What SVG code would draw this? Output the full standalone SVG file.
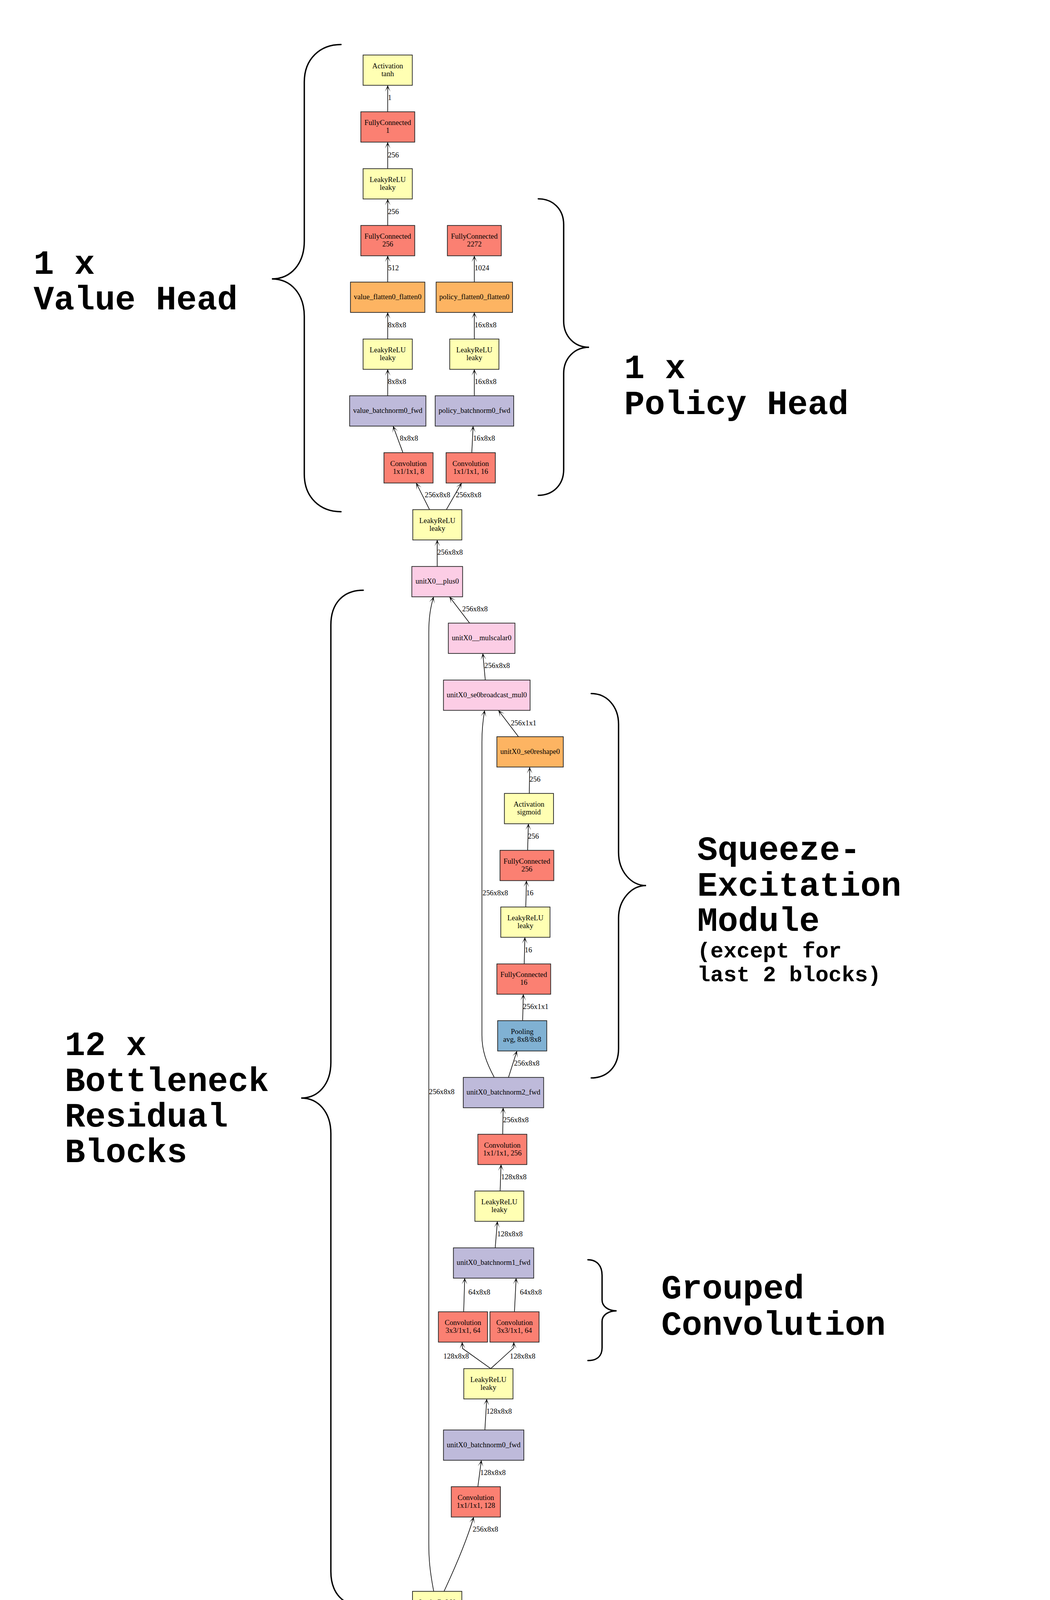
<svg xmlns="http://www.w3.org/2000/svg" width="2688" height="5953" viewBox="0 0 2688 5953">
<style>
.bg{fill:#ffffff}
.n rect,.n ellipse{stroke:#222222;stroke-width:1.8}
.red{fill:#fb8072}.yel{fill:#ffffb3}.pur{fill:#bebada}.ora{fill:#fdb462}.pnk{fill:#fccde5}.blu{fill:#80b1d3}.tea{fill:#8dd3c7}
.t{font-family:"Liberation Serif","Times New Roman",serif;font-size:18.7px;fill:#000000;text-anchor:middle}
.l{font-family:"Liberation Serif","Times New Roman",serif;font-size:18.7px;fill:#000000;text-anchor:start}
.e path{fill:none;stroke:#000000;stroke-width:1.6;marker-end:url(#ah)}
.br path{fill:none;stroke:#000000;stroke-width:3.5;stroke-linecap:round}
.big{font-family:"Liberation Mono","Courier New",monospace;font-weight:bold;font-size:87px;fill:#000000}
.sm{font-family:"Liberation Mono","Courier New",monospace;font-weight:bold;font-size:56px;fill:#000000}
</style>
<defs>
<marker id="ah" viewBox="-18 -10 20 20" refX="0" refY="0" markerWidth="20" markerHeight="20" markerUnits="userSpaceOnUse" orient="auto">
<path d="M0,0 L-16,-7 L-5,0 L-16,7 Z" fill="#000000"/>
</marker>
</defs>
<rect class="bg" x="0" y="0" width="2688" height="5953"/>

<g id="connectors" class="e">
<path d="M992.5,286.2 L992.5,218.6"/>
<path d="M992.5,431.8 L992.5,364"/>
<path d="M992.5,577.2 L992.5,509.4"/>
<path d="M992.5,722.2 L992.5,654.8"/>
<path d="M1214.3,722.2 L1214.3,654.8"/>
<path d="M992.5,867.9 L992.5,799.8"/>
<path d="M1214.3,867.9 L1214.3,799.8"/>
<path d="M992.5,1013.2 L992.5,945.5"/>
<path d="M1214.3,1013.2 L1214.3,945.5"/>
<path d="M1031.5,1158.9 L1006.3,1090.8"/>
<path d="M1207.8,1158.9 L1211.2,1090.8"/>
<path d="M1099.6,1304.7 L1065.5,1236.5"/>
<path d="M1142.7,1304.7 L1181.7,1236.5"/>
<path d="M1119.3,1450.2 L1119.3,1382.3"/>
<path d="M1202.3,1595.2 L1150.7,1527.8"/>
<path d="M1242.3,1740.9 L1236,1672.8"/>
<path d="M1327.3,1886 L1276,1818.6"/>
<path d="M1355,2031.2 L1356,1964"/>
<path d="M1350.7,2176.8 L1352.7,2108.8"/>
<path d="M1346,2321.9 L1347.7,2254.5"/>
<path d="M1342,2467.6 L1343.7,2399.5"/>
<path d="M1338,2612.9 L1339.7,2545.3"/>
<path d="M1301.7,2758.2 L1323.3,2690.5"/>
<path d="M1265.3,2758.2 C1245,2720 1233.7,2690 1233.7,2650 L1233.7,1900 C1233.7,1870 1236,1845 1240.7,1818.6"/>
<path d="M1287,2903.7 L1288,2835.8"/>
<path d="M1280.3,3049 L1282.7,2981.3"/>
<path d="M1267.7,3194.5 L1273.3,3126.6"/>
<path d="M1187,3358.2 L1189.7,3271.7"/>
<path d="M1317,3358.2 L1321.3,3271.7"/>
<path d="M1256.3,3503.7 L1184,3452 L1183,3436"/>
<path d="M1256.3,3503.7 L1315.3,3450 L1315.3,3436"/>
<path d="M1241.3,3660.7 L1246,3581.3"/>
<path d="M1223.3,3806 L1232.3,3738.3"/>
<path d="M1136.7,4073.8 Q1190,3960 1212.7,3883.6"/>
<path d="M1110.3,4073.8 C1100,4020 1097.7,3990 1097.7,3950 L1097.7,1620 C1097.7,1580 1102,1555 1110,1527.8"/>
<path d="M1119.3,4219.2 L1119.3,4151.4"/>
<path d="M1194.7,4364.9 L1146.7,4296.8"/>
<path d="M1228.7,4510.2 L1224.7,4442.5"/>
<path d="M1231.3,4655.5 L1231.3,4587.8"/>
<path d="M1231.3,4801 L1231.3,4733.1"/>
<path d="M1231.3,4946 L1231.3,4878.6"/>
<path d="M1219,5091.5 L1226.3,5023.6"/>
<path d="M1144.7,5236.8 L1188.3,5169.1"/>
<path d="M1110.3,5236.8 C1100,5190 1097.7,5170 1097.7,5140 L1097.7,4390 C1097.7,4350 1102,4325 1109,4296.8"/>
<path d="M1119.3,5382.2 L1119.3,5314.4"/>
<path d="M1119.3,5527.4 L1119.3,5459.8"/>
<path d="M1119.3,5673 L1119.3,5605"/>
</g>

<g id="edge-labels">
<text class="l" x="993" y="256">1</text>
<text class="l" x="993" y="402.5">256</text>
<text class="l" x="993" y="547.6">256</text>
<text class="l" x="993" y="692.3">512</text>
<text class="l" x="1215" y="692.3">1024</text>
<text class="l" x="993" y="838.4">8x8x8</text>
<text class="l" x="1215" y="838.4">16x8x8</text>
<text class="l" x="993" y="983.1">8x8x8</text>
<text class="l" x="1215" y="983.1">16x8x8</text>
<text class="l" x="1023.5" y="1128.2">8x8x8</text>
<text class="l" x="1211.2" y="1128.2">16x8x8</text>
<text class="l" x="1087.3" y="1273.2">256x8x8</text>
<text class="l" x="1166.7" y="1273.2">256x8x8</text>
<text class="l" x="1119.5" y="1419.5">256x8x8</text>
<text class="l" x="1183.3" y="1564.6">256x8x8</text>
<text class="l" x="1240" y="1710">256x8x8</text>
<text class="l" x="1307.7" y="1856.5">256x1x1</text>
<text class="l" x="1355.5" y="2000.5">256</text>
<text class="l" x="1351.5" y="2147.2">256</text>
<text class="l" x="1347" y="2292.3">16</text>
<text class="l" x="1235.3" y="2292">256x8x8</text>
<text class="l" x="1343.3" y="2437.6">16</text>
<text class="l" x="1338.7" y="2583">256x1x1</text>
<text class="l" x="1315.7" y="2728.2">256x8x8</text>
<text class="l" x="1098.3" y="2801.3">256x8x8</text>
<text class="l" x="1288" y="2872.5">256x8x8</text>
<text class="l" x="1282.7" y="3019">128x8x8</text>
<text class="l" x="1272.7" y="3164.5">128x8x8</text>
<text class="l" x="1199" y="3314">64x8x8</text>
<text class="l" x="1331" y="3314">64x8x8</text>
<text class="l" x="1135" y="3477.6">128x8x8</text>
<text class="l" x="1305.3" y="3477.6">128x8x8</text>
<text class="l" x="1245" y="3619">128x8x8</text>
<text class="l" x="1229.3" y="3776">128x8x8</text>
<text class="l" x="1210" y="3921">256x8x8</text>
<text class="l" x="1119.3" y="4189">256x8x8</text>
<text class="l" x="1178.3" y="4335.6">256x8x8</text>
<text class="l" x="1226.7" y="4480.7">256x8x8</text>
<text class="l" x="1231.5" y="4625.9">256x8x8</text>
<text class="l" x="1231.5" y="4771.4">256x8x8</text>
<text class="l" x="1098.3" y="4771.4">256x8x8</text>
<text class="l" x="1231.5" y="4915.6">256x8x8</text>
<text class="l" x="1224" y="5061">256x8x8</text>
<text class="l" x="1172.7" y="5207.7">256x8x8</text>
<text class="l" x="1119.3" y="5351.2">256x8x8</text>
<text class="l" x="1119.3" y="5496.6">256x8x8</text>
<text class="l" x="1119.3" y="5643.3">34x8x8</text>
</g>

<g id="n_value_tanh" class="n"><rect class="yel" x="929.5" y="140.8" width="126" height="77.6"/><text class="t" x="992.5" y="174.6">Activation</text><text class="t" x="992.5" y="194.6">tanh</text></g>
<g id="n_value_fc1" class="n"><rect class="red" x="923.7" y="286.2" width="138" height="77.6"/><text class="t" x="992.7" y="320">FullyConnected</text><text class="t" x="992.7" y="340">1</text></g>
<g id="n_value_relu1" class="n"><rect class="yel" x="929.5" y="431.8" width="126" height="77.6"/><text class="t" x="992.5" y="465.6">LeakyReLU</text><text class="t" x="992.5" y="485.6">leaky</text></g>
<g id="n_value_fc256" class="n"><rect class="red" x="923.7" y="577.2" width="138" height="77.6"/><text class="t" x="992.7" y="611">FullyConnected</text><text class="t" x="992.7" y="631">256</text></g>
<g id="n_policy_fc" class="n"><rect class="red" x="1145.3" y="577.2" width="138" height="77.6"/><text class="t" x="1214.3" y="611">FullyConnected</text><text class="t" x="1214.3" y="631">2272</text></g>
<g id="n_value_flatten" class="n"><rect class="ora" x="897.2" y="722.2" width="190.4" height="77.6"/><text class="t" x="992.4" y="766">value_flatten0_flatten0</text></g>
<g id="n_policy_flatten" class="n"><rect class="ora" x="1116.5" y="722.2" width="195.6" height="77.6"/><text class="t" x="1214.3" y="766">policy_flatten0_flatten0</text></g>
<g id="n_value_relu0" class="n"><rect class="yel" x="929.5" y="867.9" width="126" height="77.6"/><text class="t" x="992.5" y="901.7">LeakyReLU</text><text class="t" x="992.5" y="921.7">leaky</text></g>
<g id="n_policy_relu0" class="n"><rect class="yel" x="1151.3" y="867.9" width="126" height="77.6"/><text class="t" x="1214.3" y="901.7">LeakyReLU</text><text class="t" x="1214.3" y="921.7">leaky</text></g>
<g id="n_value_bn" class="n"><rect class="pur" x="895.1" y="1013.2" width="195.2" height="77.6"/><text class="t" x="992.7" y="1057">value_batchnorm0_fwd</text></g>
<g id="n_policy_bn" class="n"><rect class="pur" x="1114.1" y="1013.2" width="201" height="77.6"/><text class="t" x="1214.6" y="1057">policy_batchnorm0_fwd</text></g>
<g id="n_value_conv" class="n"><rect class="red" x="982.9" y="1158.9" width="125.7" height="77.6"/><text class="t" x="1045.7" y="1192.7">Convolution</text><text class="t" x="1045.7" y="1212.7">1x1/1x1, 8</text></g>
<g id="n_policy_conv" class="n"><rect class="red" x="1142" y="1158.9" width="126" height="77.6"/><text class="t" x="1205" y="1192.7">Convolution</text><text class="t" x="1205" y="1212.7">1x1/1x1, 16</text></g>
<g id="n_uX_relu_out" class="n"><rect class="yel" x="1056.7" y="1304.7" width="125.6" height="77.6"/><text class="t" x="1119.5" y="1338.5">LeakyReLU</text><text class="t" x="1119.5" y="1358.5">leaky</text></g>
<g id="n_uX_plus" class="n"><rect class="pnk" x="1054.3" y="1450.2" width="130" height="77.6"/><text class="t" x="1119.3" y="1494">unitX0__plus0</text></g>
<g id="n_uX_mulscalar" class="n"><rect class="pnk" x="1147.7" y="1595.2" width="170.6" height="77.6"/><text class="t" x="1233" y="1639">unitX0__mulscalar0</text></g>
<g id="n_uX_bcast" class="n"><rect class="pnk" x="1135.3" y="1740.9" width="221.7" height="77.6"/><text class="t" x="1246.2" y="1784.7">unitX0_se0broadcast_mul0</text></g>
<g id="n_uX_reshape" class="n"><rect class="ora" x="1272" y="1886" width="170" height="77.6"/><text class="t" x="1357" y="1929.8">unitX0_se0reshape0</text></g>
<g id="n_uX_sigmoid" class="n"><rect class="yel" x="1291.3" y="2031.2" width="125.7" height="77.6"/><text class="t" x="1354.2" y="2065">Activation</text><text class="t" x="1354.2" y="2085">sigmoid</text></g>
<g id="n_uX_fc256" class="n"><rect class="red" x="1280" y="2176.8" width="137.7" height="77.6"/><text class="t" x="1348.8" y="2210.6">FullyConnected</text><text class="t" x="1348.8" y="2230.6">256</text></g>
<g id="n_uX_se_relu" class="n"><rect class="yel" x="1282" y="2321.9" width="126" height="77.6"/><text class="t" x="1345" y="2355.7">LeakyReLU</text><text class="t" x="1345" y="2375.7">leaky</text></g>
<g id="n_uX_fc16" class="n"><rect class="red" x="1272" y="2467.6" width="137.7" height="77.6"/><text class="t" x="1340.8" y="2501.4">FullyConnected</text><text class="t" x="1340.8" y="2521.4">16</text></g>
<g id="n_uX_pool" class="n"><rect class="blu" x="1274" y="2612.9" width="125.7" height="77.6"/><text class="t" x="1336.8" y="2646.7">Pooling</text><text class="t" x="1336.8" y="2666.7">avg, 8x8/8x8</text></g>
<g id="n_uX_bn2" class="n"><rect class="pur" x="1186" y="2758.2" width="205.7" height="77.6"/><text class="t" x="1288.8" y="2802">unitX0_batchnorm2_fwd</text></g>
<g id="n_uX_conv2" class="n"><rect class="red" x="1223.3" y="2903.7" width="125.4" height="77.6"/><text class="t" x="1286" y="2937.5">Convolution</text><text class="t" x="1286" y="2957.5">1x1/1x1, 256</text></g>
<g id="n_uX_relu1" class="n"><rect class="yel" x="1215.7" y="3049" width="125.3" height="77.6"/><text class="t" x="1278.3" y="3082.8">LeakyReLU</text><text class="t" x="1278.3" y="3102.8">leaky</text></g>
<g id="n_uX_bn1" class="n"><rect class="pur" x="1160.7" y="3194.5" width="205.6" height="77.6"/><text class="t" x="1263.5" y="3238.3">unitX0_batchnorm1_fwd</text></g>
<g id="n_uX_conv1a" class="n"><rect class="red" x="1122.3" y="3358.2" width="125.7" height="77.6"/><text class="t" x="1185.2" y="3392">Convolution</text><text class="t" x="1185.2" y="3412">3x3/1x1, 64</text></g>
<g id="n_uX_conv1b" class="n"><rect class="red" x="1254.3" y="3358.2" width="125.7" height="77.6"/><text class="t" x="1317.2" y="3392">Convolution</text><text class="t" x="1317.2" y="3412">3x3/1x1, 64</text></g>
<g id="n_uX_relu0" class="n"><rect class="yel" x="1187.3" y="3503.7" width="126" height="77.6"/><text class="t" x="1250.3" y="3537.5">LeakyReLU</text><text class="t" x="1250.3" y="3557.5">leaky</text></g>
<g id="n_uX_bn0" class="n"><rect class="pur" x="1135.3" y="3660.7" width="205.7" height="77.6"/><text class="t" x="1238.2" y="3704.5">unitX0_batchnorm0_fwd</text></g>
<g id="n_uX_conv0" class="n"><rect class="red" x="1155.3" y="3806" width="125.7" height="77.6"/><text class="t" x="1218.2" y="3839.8">Convolution</text><text class="t" x="1218.2" y="3859.8">1x1/1x1, 128</text></g>
<g id="n_u0_relu_out" class="n"><rect class="yel" x="1056" y="4073.8" width="126.3" height="77.6"/><text class="t" x="1119.2" y="4107.6">LeakyReLU</text><text class="t" x="1119.2" y="4127.6">leaky</text></g>
<g id="n_u0_plus" class="n"><rect class="pnk" x="1056.7" y="4219.2" width="125.6" height="77.6"/><text class="t" x="1119.5" y="4263">unit0__plus0</text></g>
<g id="n_u0_mulscalar" class="n"><rect class="pnk" x="1143" y="4364.9" width="157.7" height="77.6"/><text class="t" x="1221.8" y="4408.7">unit0__mulscalar0</text></g>
<g id="n_u0_bn1" class="n"><rect class="pur" x="1135.3" y="4510.2" width="192.4" height="77.6"/><text class="t" x="1231.5" y="4554">unit0_batchnorm1_fwd</text></g>
<g id="n_u0_conv1" class="n"><rect class="red" x="1168.7" y="4655.5" width="125.6" height="77.6"/><text class="t" x="1231.5" y="4689.3">Convolution</text><text class="t" x="1231.5" y="4709.3">3x3/1x1, 256</text></g>
<g id="n_u0_relu0" class="n"><rect class="yel" x="1168.3" y="4801" width="126" height="77.6"/><text class="t" x="1231.3" y="4834.8">LeakyReLU</text><text class="t" x="1231.3" y="4854.8">leaky</text></g>
<g id="n_u0_bn0" class="n"><rect class="pur" x="1135.3" y="4946" width="192.7" height="77.6"/><text class="t" x="1231.7" y="4989.8">unit0_batchnorm0_fwd</text></g>
<g id="n_u0_conv0" class="n"><rect class="red" x="1151" y="5091.5" width="126" height="77.6"/><text class="t" x="1214" y="5125.3">Convolution</text><text class="t" x="1214" y="5145.3">3x3/1x1, 256</text></g>
<g id="n_stem_relu" class="n"><rect class="yel" x="1056.3" y="5236.8" width="126" height="77.6"/><text class="t" x="1119.3" y="5270.6">LeakyReLU</text><text class="t" x="1119.3" y="5290.6">leaky</text></g>
<g id="n_stem_bn" class="n"><rect class="pur" x="1023.7" y="5382.2" width="191.3" height="77.6"/><text class="t" x="1119.3" y="5426">stem_batchnorm0_fwd</text></g>
<g id="n_stem_conv" class="n"><rect class="red" x="1056.3" y="5527.4" width="126" height="77.6"/><text class="t" x="1119.3" y="5561.2">Convolution</text><text class="t" x="1119.3" y="5581.2">3x3/1x1, 256</text></g>
<g id="n_data" class="n"><ellipse class="tea" cx="1119.3" cy="5711.5" rx="63" ry="38.5"/><text class="t" x="1119.3" y="5716.5">data</text></g>

<g id="braces" class="br">
<path d="M873,114 C820,114 779,150 779,210 L779,617 C779,675 745,714 696,714 C745,714 779,753 779,810 L779,1214 C779,1274 820,1310 873,1310"/>
<path d="M1378,509 C1415,509 1443,535 1443,575 L1443,822 C1443,860 1470,889 1508,889 C1470,889 1443,918 1443,956 L1443,1202 C1443,1242 1415,1268 1378,1268"/>
<path d="M1513.5,1775.6 C1555,1775.6 1583.5,1810 1583.5,1854 L1583.5,2182 C1583.5,2230 1615,2267 1654,2267 C1615,2267 1583.5,2305 1583.5,2350 L1583.5,2684.5 C1583.5,2730 1555,2759.5 1513.5,2759.5"/>
<path d="M930,1511 C878,1511 847,1545 847,1600 L847,2720 C847,2775 815,2811 771,2811 C815,2811 847,2847 847,2902 L847,4023 C847,4078 878,4112 930,4112"/>
<path d="M1505,3225 C1528,3225 1541.3,3240 1541.3,3265 L1541.3,3328 C1541.3,3345 1558,3355.7 1578.5,3355.7 C1558,3355.7 1541.3,3366 1541.3,3383 L1541.3,3450 C1541.3,3472 1528,3483 1505,3483"/>
<path d="M1464,4195 C1505,4195 1532,4225 1532,4288 L1532,4645 C1532,4695 1560,4723 1601,4723 C1560,4723 1532,4750 1532,4802 L1532,5166 C1532,5225 1505,5252 1464,5252"/>
<path d="M950,5308 C922,5308 905,5325 905,5355 L905,5490 C905,5520 888,5538 862,5538 C888,5538 905,5556 905,5586 L905,5720 C905,5750 922,5768 950,5768"/>
</g>

<g id="annotations">
<text class="big" x="86" y="700.7">1 x</text>
<text class="big" x="86" y="792.3">Value Head</text>
<text class="big" x="1598" y="968">1 x</text>
<text class="big" x="1598" y="1059.5">Policy Head</text>
<text class="big" x="1785" y="2201">Squeeze-</text>
<text class="big" x="1785" y="2292.7">Excitation</text>
<text class="big" x="1785" y="2383">Module</text>
<text class="sm" x="1785" y="2451">(except for</text>
<text class="sm" x="1785" y="2512">last 2 blocks)</text>
<text class="big" x="166" y="2701">12 x</text>
<text class="big" x="166" y="2793">Bottleneck</text>
<text class="big" x="166" y="2884">Residual</text>
<text class="big" x="166" y="2975">Blocks</text>
<text class="big" x="1693" y="3324">Grouped</text>
<text class="big" x="1693" y="3417">Convolution</text>
<text class="big" x="1740" y="4645">7 x</text>
<text class="big" x="1740" y="4736">Standard</text>
<text class="big" x="1740" y="4827">Residual</text>
<text class="big" x="1740" y="4919">Blocks</text>
<text class="big" x="508" y="5517">1 x</text>
<text class="big" x="508" y="5608">Stem</text>
</g>
</svg>
